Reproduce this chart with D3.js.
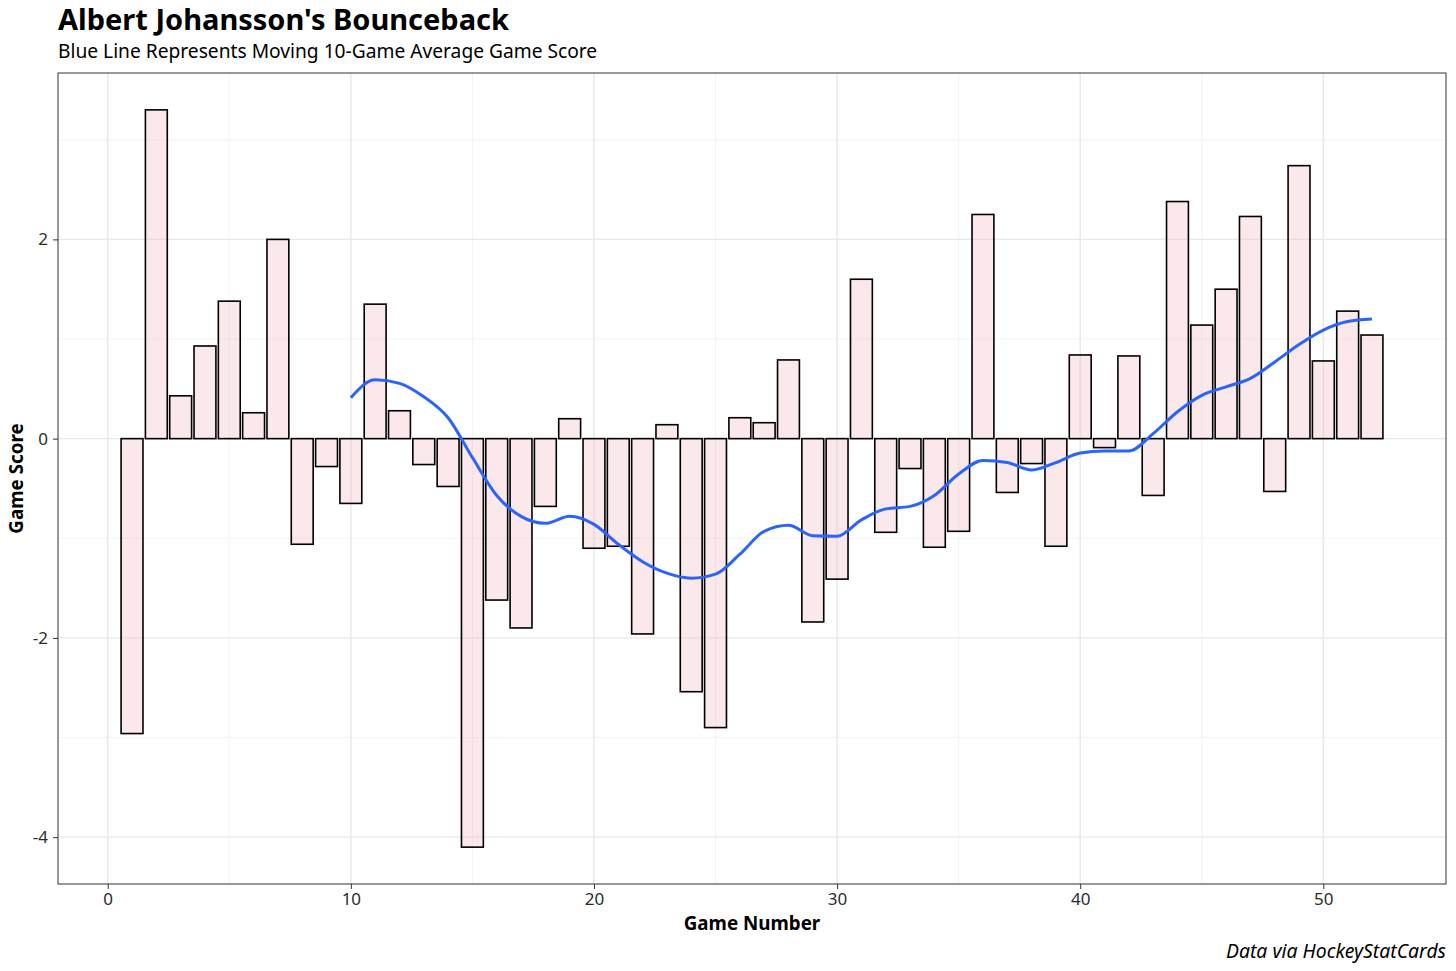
<!DOCTYPE html>
<html>
<head>
<meta charset="utf-8">
<script src="https://cdn.jsdelivr.net/npm/d3@7"></script>
<style>
  body { margin: 0; background: #fff; }
  text { font-family: "Noto Sans", "Open Sans", sans-serif; }
</style>
</head>
<body>
<div id="chart"></div>
<script>
// game score per game
var games = d3.range(1, 53);
var scores = [
  -2.96, 3.30, 0.43, 0.93, 1.38, 0.26, 2.00, -1.06, -0.28, -0.65,
  1.35, 0.28, -0.26, -0.48, -4.10, -1.62, -1.90, -0.68, 0.20, -1.10,
  -1.08, -1.96, 0.14, -2.54, -2.90, 0.21, 0.16, 0.79, -1.84, -1.41,
  1.60, -0.94, -0.30, -1.09, -0.93, 2.25, -0.54, -0.25, -1.08, 0.84,
  -0.09, 0.83, -0.57, 2.38, 1.14, 1.50, 2.23, -0.53, 2.74, 0.78,
  1.28, 1.04
];

// moving 10-game average, games 10..52
var avgGames = d3.range(10, 53);
var avgScores = [
  0.41, 0.59, 0.555, 0.42, 0.21, -0.19, -0.57, -0.78, -0.85, -0.78,
  -0.86, -1.06, -1.235, -1.35, -1.40, -1.36, -1.16, -0.93, -0.87, -0.975,
  -0.98, -0.815, -0.705, -0.68, -0.57, -0.355, -0.22, -0.24, -0.315, -0.24,
  -0.145, -0.125, -0.125, 0.05, 0.27, 0.435, 0.52, 0.605, 0.77, 0.945,
  1.09, 1.175, 1.20
];

var xTicks = [0, 10, 20, 30, 40, 50];
var yTicks = [-4, -2, 0, 2];

var W = 1456, H = 971;
var m = { left: 58, right: 10, top: 73, bottom: 87 };

var svg = d3.select("#chart").append("svg")
    .attr("width", W).attr("height", H);

var x = d3.scaleLinear().domain([-2.045, 55.045]).range([m.left, W - m.right]);
var y = d3.scaleLinear().domain([-4.47, 3.67]).range([H - m.bottom, m.top]);

var pw = W - m.right - m.left, ph = H - m.bottom - m.top;

// grid
var g = svg.append("g");
g.selectAll(".vminor").data([5, 15, 25, 35, 45])
  .enter().append("line")
    .attr("x1", function(d) { return x(d); }).attr("x2", function(d) { return x(d); })
    .attr("y1", m.top).attr("y2", H - m.bottom)
    .attr("stroke", "#f0f0f0").attr("stroke-width", 0.9);
g.selectAll(".hminor").data([-3, -1, 1, 3])
  .enter().append("line")
    .attr("y1", function(d) { return y(d); }).attr("y2", function(d) { return y(d); })
    .attr("x1", m.left).attr("x2", W - m.right)
    .attr("stroke", "#f0f0f0").attr("stroke-width", 0.9);
g.selectAll(".vmajor").data(xTicks)
  .enter().append("line")
    .attr("x1", function(d) { return x(d); }).attr("x2", function(d) { return x(d); })
    .attr("y1", m.top).attr("y2", H - m.bottom)
    .attr("stroke", "#e8e8e8").attr("stroke-width", 1.4);
g.selectAll(".hmajor").data(yTicks)
  .enter().append("line")
    .attr("y1", function(d) { return y(d); }).attr("y2", function(d) { return y(d); })
    .attr("x1", m.left).attr("x2", W - m.right)
    .attr("stroke", "#e8e8e8").attr("stroke-width", 1.4);

// bars
svg.append("g").selectAll("rect").data(games)
  .enter().append("rect")
    .attr("x", function(d) { return x(d - 0.45); })
    .attr("width", x(0.9) - x(0))
    .attr("y", function(d, i) { return y(Math.max(0, scores[i])); })
    .attr("height", function(d, i) { return Math.abs(y(scores[i]) - y(0)); })
    .attr("fill", "rgb(238,180,184)").attr("fill-opacity", 0.3)
    .attr("stroke", "#000").attr("stroke-width", 1.6);

// moving average line
var line = d3.line()
    .x(function(d) { return x(d); })
    .y(function(d, i) { return y(avgScores[i]); })
    .curve(d3.curveMonotoneX);
svg.append("path").datum(avgGames)
    .attr("d", line)
    .attr("fill", "none").attr("stroke", "#2b63ff").attr("stroke-width", 3);

// panel border
svg.append("rect")
    .attr("x", m.left).attr("y", m.top).attr("width", pw).attr("height", ph)
    .attr("fill", "none").attr("stroke", "#333").attr("stroke-width", 1);

// axes
var fmt = function(d) { return String(d); };
var xAxis = svg.append("g")
    .attr("transform", "translate(0," + (H - m.bottom) + ")")
    .call(d3.axisBottom(x).tickValues(xTicks).tickFormat(fmt).tickSize(5).tickPadding(4));
var yAxis = svg.append("g")
    .attr("transform", "translate(" + m.left + ",0)")
    .call(d3.axisLeft(y).tickValues(yTicks).tickFormat(fmt).tickSize(5).tickPadding(5));
[xAxis, yAxis].forEach(function(a) {
  a.select(".domain").remove();
  a.selectAll(".tick line").attr("stroke", "#333").attr("stroke-width", 1);
  a.selectAll(".tick text").attr("fill", "#2b2b2b")
    .style("font-family", "'Noto Sans', sans-serif").style("font-size", "17px");
});

// titles
svg.append("text").attr("x", 58).attr("y", 30)
    .attr("font-size", 29).attr("font-weight", "bold").attr("fill", "#000")
    .text("Albert Johansson's Bounceback");
svg.append("text").attr("x", 58).attr("y", 58)
    .attr("font-size", 19.2).attr("fill", "#000")
    .text("Blue Line Represents Moving 10-Game Average Game Score");
svg.append("text").attr("x", m.left + pw / 2).attr("y", 930)
    .attr("text-anchor", "middle").attr("font-size", 18.8).attr("font-weight", "bold")
    .text("Game Number");
svg.append("text")
    .attr("transform", "translate(23," + (m.top + ph / 2) + ") rotate(-90)")
    .attr("text-anchor", "middle").attr("font-size", 18.8).attr("font-weight", "bold")
    .text("Game Score");
svg.append("text").attr("x", W - 10).attr("y", 958)
    .attr("text-anchor", "end").attr("font-size", 19.4).attr("font-style", "italic")
    .text("Data via HockeyStatCards");
</script>
</body>
</html>
